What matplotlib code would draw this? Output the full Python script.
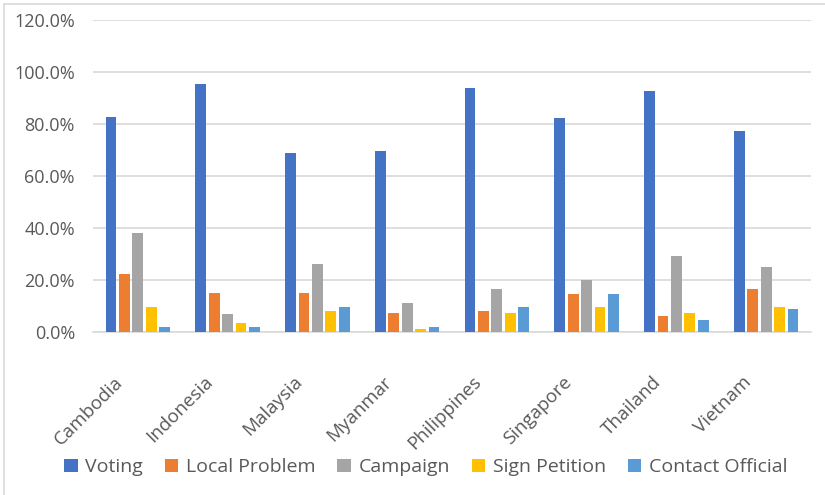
import matplotlib
matplotlib.use("Agg")
import matplotlib.pyplot as plt
import numpy as np
from matplotlib.patches import Patch
from matplotlib.lines import Line2D
from matplotlib.transforms import ScaledTranslation
from matplotlib.ticker import PercentFormatter

# data (percent)
countries = ["Cambodia", "Indonesia", "Malaysia", "Myanmar",
             "Philippines", "Singapore", "Thailand", "Vietnam"]
series_names = ["Voting", "Local Problem", "Campaign", "Sign Petition", "Contact Official"]
voting = [82.8, 95.5, 69.0, 69.8, 94.0, 82.4, 92.8, 77.4]
local_problem = [22.4, 15.1, 15.1, 7.4, 8.2, 14.7, 6.2, 16.6]
campaign = [38.2, 7.0, 26.3, 11.3, 16.7, 20.1, 29.4, 25.3]
sign_petition = [9.7, 3.6, 8.2, 1.3, 7.4, 9.7, 7.4, 9.7]
contact_official = [2.0, 2.0, 9.7, 2.0, 9.7, 14.7, 4.7, 9.0]
y_ticks = [0, 20, 40, 60, 80, 100, 120]

colors = ["#4472C4", "#ED7D31", "#A5A5A5", "#FFC000", "#5B9BD5"]
text_color = "#595959"
grid_color = "#D9D9D9"
font = ["Open Sans", "DejaVu Sans"]

plt.rcParams["font.family"] = font

fig = plt.figure(figsize=(8.25, 4.95), dpi=100)
ax = fig.add_axes([93 / 825, 1 - 332.3 / 495, (811 - 93) / 825, (332.3 - 20.3) / 495])

series = [voting, local_problem, campaign, sign_petition, contact_official]
x = np.arange(len(countries))
step = 0.15
width = 0.12
for k, (name, vals) in enumerate(zip(series_names, series)):
    ax.bar(x + (k - 2) * step, vals, width, color=colors[k], label=name, zorder=3)

ax.set_xlim(-0.5, len(countries) - 0.5)
ax.set_ylim(0, 120)
ax.set_yticks(y_ticks)
ax.yaxis.set_major_formatter(PercentFormatter(decimals=1))
ax.grid(axis="y", color=grid_color, linewidth=1.2, zorder=0)
for side in ["top", "right", "left"]:
    ax.spines[side].set_visible(False)
ax.spines["bottom"].set_color(grid_color)
ax.spines["bottom"].set_linewidth(1.2)
ax.tick_params(axis="y", length=0, pad=13, labelsize=13, labelcolor=text_color)
ax.tick_params(axis="x", length=0, pad=0)

ax.set_xticks(x)
ax.set_xticklabels(countries, rotation=45, ha="right", va="center",
                   rotation_mode="anchor", fontsize=13.5, color=text_color)
shift = ScaledTranslation(-18 / 100, -47 / 100, fig.dpi_scale_trans)
for lbl in ax.get_xticklabels():
    lbl.set_transform(lbl.get_transform() + shift)

handles = [Patch(facecolor=c, edgecolor="none") for c in colors]
fig.legend(handles, series_names, loc="center", bbox_to_anchor=(0.516, 1 - 467 / 495),
           ncol=5, frameon=False, fontsize=14, labelcolor=text_color,
           handlelength=0.68, handleheight=0.68, handletextpad=0.4,
           columnspacing=1.12, borderaxespad=0, borderpad=0)

# chart-area border (left and top visible in the reference)
fig.add_artist(Line2D([4 / 825, 4 / 825], [0, 1 - 4 / 495], transform=fig.transFigure,
                      color=grid_color, linewidth=1.2))
fig.add_artist(Line2D([4 / 825, 1], [1 - 4 / 495, 1 - 4 / 495], transform=fig.transFigure,
                      color=grid_color, linewidth=1.2))

fig.savefig("out.png", dpi=100)
